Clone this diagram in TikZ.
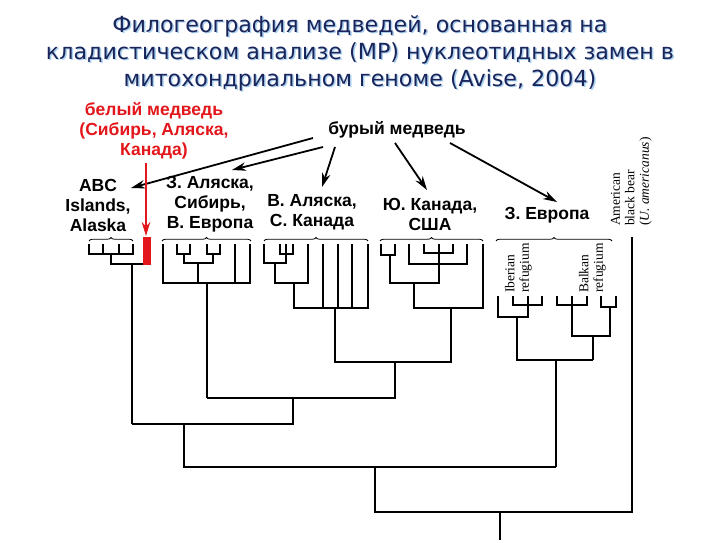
\documentclass[tikz,border=0pt]{standalone}
\usepackage{fontspec}
\setmainfont{Liberation Sans}
\newfontfamily\titlefont{DejaVu Sans}
\newfontfamily\labserif{Liberation Serif}
\usetikzlibrary{arrows.meta,decorations.pathreplacing}
\definecolor{navy}{HTML}{1B2459}
\definecolor{shadowblue}{HTML}{A8D0F0}
\definecolor{bearred}{HTML}{E3161B}
\tikzset{
  tree/.style={line width=1.6pt, line join=miter},
  grpbrace/.style={decorate, decoration={brace, amplitude=3.5pt}, line width=0.8pt},
  lab/.style={font=\bfseries\fontsize{17.5}{20}\selectfont, align=center, inner sep=0pt},
  pointer/.style={line width=1.8pt, -{Stealth[length=14pt,width=8.5pt]}},
  redpointer/.style={line width=1.8pt, bearred, -{Stealth[length=14pt,width=8.5pt]}},
  rotlab/.style={font=\labserif\fontsize{13.5}{14.5}\selectfont, rotate=90, anchor=south west, align=left, inner sep=0pt},
  ttl/.style={font=\titlefont\fontsize{22.2}{27}\selectfont, align=center, inner sep=0pt}
}
\begin{document}
\begin{tikzpicture}[x=1pt,y=-1pt]
\useasboundingbox (0,0) rectangle (720,540);
\fill[white] (0,0) rectangle (720,540);
% title
\node[ttl, text=shadowblue] (titleshadow) at (361.5,54.5) {Филогеография медведей, основанная на\\кладистическом анализе (MP) нуклеотидных замен в\\митохондриальном геноме (Avise, 2004)};
\node[ttl, text=navy] (title) at (360,53) {Филогеография медведей, основанная на\\кладистическом анализе (MP) нуклеотидных замен в\\митохондриальном геноме (Avise, 2004)};
% labels
\node[lab, text=bearred] (polar) at (154,131) {белый медведь\\(Сибирь, Аляска,\\Канада)};
\node[lab] (brown) at (397,130) {бурый медведь};
\node[lab] (abc) at (98,205) {ABC\\Islands,\\Alaska};
\node[lab] (zal) at (210,204) {З. Аляска,\\Сибирь,\\В. Европа};
\node[lab] (val) at (312,212) {В. Аляска,\\С. Канада};
\node[lab] (yuk) at (430,214) {Ю. Канада,\\США};
\node[lab] (zeu) at (547,215) {З. Европа};
\node[rotlab] (iber) at (532,293) {Iberian\\refugium};
\node[rotlab] (balk) at (606,293) {Balkan\\refugium};
\node[rotlab] (amer) at (652,226) {American\\black bear\\(\textit{U. americanus})};
% arrows
\coordinate (b1) at (313,138); \coordinate (e1) at (131,188);
\coordinate (b2) at (323,147); \coordinate (e2) at (232,170);
\coordinate (b3) at (335,147); \coordinate (e3) at (322,187);
\coordinate (b4) at (395,143); \coordinate (e4) at (427,190);
\coordinate (b5) at (450,143); \coordinate (e5) at (557,202);
\draw[pointer] (b1) -- (e1);
\draw[pointer] (b2) -- (e2);
\draw[pointer] (b3) -- (e3);
\draw[pointer] (b4) -- (e4);
\draw[pointer] (b5) -- (e5);
\coordinate (rb) at (146,163); \coordinate (re) at (146,236);
\draw[redpointer] (rb) -- (re);
% polar bear bar
\fill[bearred] (143,237) rectangle (151,265);
% braces
\draw[grpbrace] (89,241) -- (133,241);
\draw[grpbrace] (162,241) -- (251,241);
\draw[grpbrace] (264,241) -- (368,241);
\draw[grpbrace] (380,241) -- (483,241);
\draw[grpbrace] (496,241) -- (612,241);
% ABC
\draw[tree] (89,244) |- (133,254) -- (133,244);
\draw[tree] (103,244) -- (103,254);
\draw[tree] (119,244) -- (119,254);
\draw[tree] (111,254) |- (143,264);
\draw[tree] (132,264) -- (132,424);
% Z. Alaska
\draw[tree] (163,244) |- (250,283) -- (250,244);
\draw[tree] (177,244) |- (190,254) -- (190,244);
\draw[tree] (207,244) |- (220,254) -- (220,244);
\draw[tree] (184,254) |- (213,263) -- (213,254);
\draw[tree] (198,263) -- (198,283);
\draw[tree] (235,244) -- (235,283);
\draw[tree] (207,283) -- (207,398);
% V. Alaska
\draw[tree] (264,244) |- (286,263) -- (286,244);
\draw[tree] (280,244) |- (293,254) -- (293,244);
\draw[tree] (275,263) |- (308,283) -- (308,244);
\draw[tree] (294,283) |- (368,308) -- (368,244);
\draw[tree] (323,244) -- (323,308);
\draw[tree] (338,244) -- (338,308);
\draw[tree] (352,244) -- (352,308);
% Yu. Kanada
\draw[tree] (381,244) |- (395,255) -- (395,244);
\draw[tree] (390,255) |- (439,283) -- (439,244);
\draw[tree] (409,244) |- (467,264) -- (467,244);
\draw[tree] (424,244) |- (453,253) -- (453,244);
\draw[tree] (414,283) |- (483,308) -- (483,244);
% joins
\draw[tree] (335,308) |- (451,362) -- (451,308);
\draw[tree] (395,362) |- (207,398);
\draw[tree] (293,398) |- (132,424);
\draw[tree] (184,424) |- (556,467);
% Europa
\draw[tree] (498,296) |- (528,317) -- (528,296);
\draw[tree] (513,296) |- (542,305) -- (542,296);
\draw[tree] (517,317) |- (593,360);
\draw[tree] (557,296) |- (587,305) -- (587,296);
\draw[tree] (572,296) |- (610,336) -- (610,307);
\draw[tree] (601,296) |- (616,307) -- (616,296);
\draw[tree] (593,336) -- (593,360);
\draw[tree] (556,360) -- (556,467);
% root
\draw[tree] (375,467) |- (632,512) -- (632,237);
\draw[tree] (500,512) -- (500,540);
\end{tikzpicture}
\end{document}
